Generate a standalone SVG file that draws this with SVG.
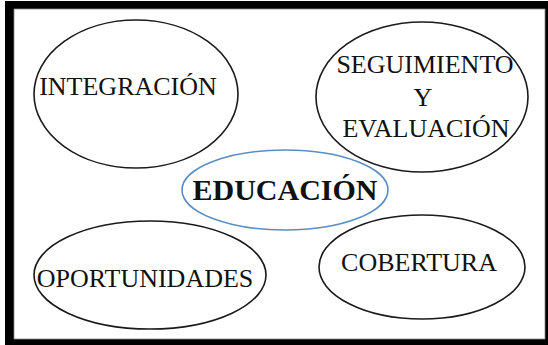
<svg xmlns="http://www.w3.org/2000/svg" width="548" height="345" viewBox="0 0 548 345">
<style>
.e{fill:none;stroke:#1a1a1a;stroke-width:1.6}
.c{fill:none;stroke:#5b8ec2;stroke-width:1.6}
.t{font-family:"Liberation Serif","Times New Roman",serif;font-size:26px;fill:#111;text-anchor:middle}
.b{font-weight:bold;font-size:30px}
</style>
<rect x="0" y="0" width="548" height="345" fill="#fff"/>
<rect x="5" y="1" width="543" height="344" fill="#000"/>
<rect x="14" y="9" width="531" height="330" fill="#fff" stroke="#888" stroke-width="0.8"/>
<g id="connectors"></g>
<g id="integracion">
<ellipse class="e" cx="136" cy="94" rx="102" ry="74"/>
<text class="t" x="128" y="95">INTEGRACIÓN</text>
</g>
<g id="seguimiento">
<ellipse class="e" cx="422" cy="97" rx="106" ry="75"/>
<text class="t" x="425" y="73">SEGUIMIENTO</text>
<text class="t" x="423" y="106">Y</text>
<text class="t" x="426" y="137">EVALUACIÓN</text>
</g>
<g id="educacion">
<ellipse class="c" cx="285" cy="190" rx="103" ry="40"/>
<text class="t b" x="285" y="200">EDUCACIÓN</text>
</g>
<g id="oportunidades">
<ellipse class="e" cx="150" cy="275" rx="116" ry="54"/>
<text class="t" x="145" y="287">OPORTUNIDADES</text>
</g>
<g id="cobertura">
<ellipse class="e" cx="422" cy="267" rx="103" ry="52"/>
<text class="t" x="419" y="271">COBERTURA</text>
</g>
</svg>
